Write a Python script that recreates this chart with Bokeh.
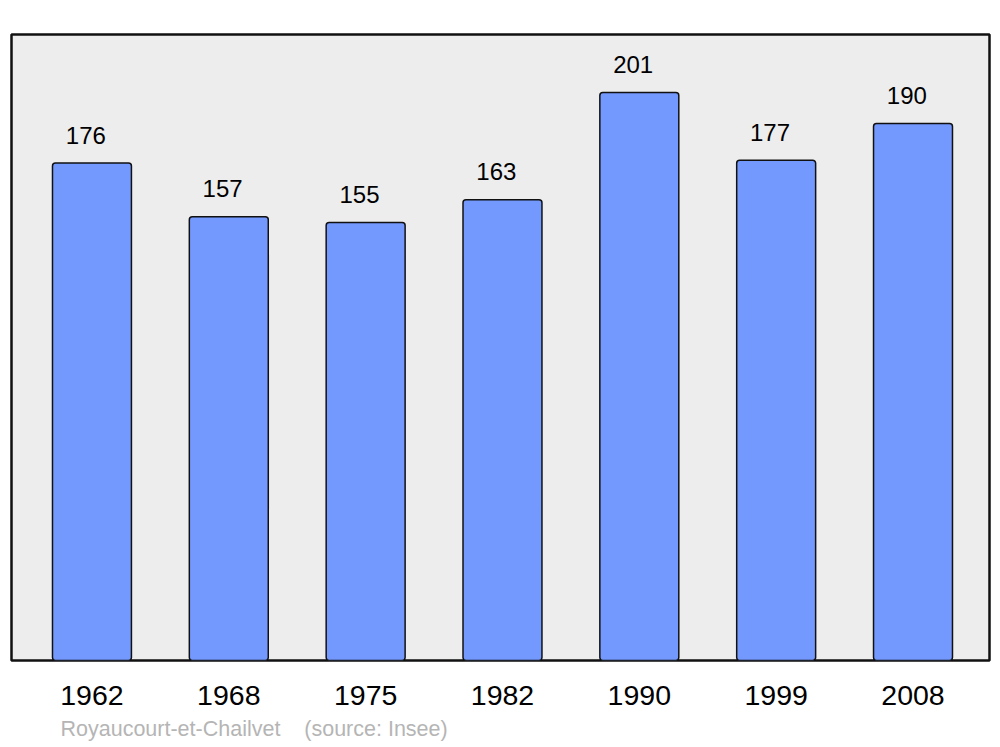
from bokeh.plotting import figure
from bokeh.models import ColumnDataSource, Range1d, Title, FixedTicker
from bokeh.core.properties import value
from bokeh.embed import file_html
from bokeh.resources import INLINE

years = ["1962", "1968", "1975", "1982", "1990", "1999", "2008"]
population = [176, 157, 155, 163, 201, 177, 190]
commune = "Royaucourt-et-Chailvet"
source_note = "(source: Insee)"

idx = list(range(len(years)))
src = ColumnDataSource(dict(x=idx, lx=[i - 0.045 for i in idx], y=population,
                            t=[str(v) for v in population]))

p = figure(width=992, height=747, output_backend="svg", toolbar_location=None,
           x_range=Range1d(-0.588, 6.559), y_range=Range1d(0, 221.5),
           min_border_left=11, min_border_right=3, min_border_top=34, min_border_bottom=0)

p.background_fill_color = "#ededed"
p.border_fill_color = "white"
p.outline_line_color = "#111111"
p.outline_line_width = 2.5
p.grid.visible = False
p.yaxis.visible = False

p.vbar(x="x", top="y", width=0.577, bottom=0, source=src,
       fill_color="#7399ff", line_color="#111111", line_width=1.5, border_radius=3)

p.text(x="lx", y="y", text="t", source=src, text_align="center",
       text_baseline="middle", y_offset=-28, text_font_size="24px",
       text_font=value("Liberation Sans"), text_color="black")

ax = p.xaxis[0]
ax.ticker = FixedTicker(ticks=idx)
ax.major_label_overrides = {i: y for i, y in zip(idx, years)}
ax.major_label_text_font_size = "28.5px"
ax.major_label_text_font = "Liberation Sans"
ax.major_label_text_color = "black"
ax.major_tick_line_color = None
ax.minor_tick_line_color = None
ax.axis_line_color = None
ax.major_label_standoff = 19

t = Title(text=commune + "\u00a0" * 4 + source_note, align="left", offset=49,
          standoff=14, text_font_size="21.5px", text_font="Liberation Sans",
          text_color="#b5b5b5", text_font_style="normal")
p.add_layout(t, "below")

open("out.html", "w").write(file_html(p, INLINE))
